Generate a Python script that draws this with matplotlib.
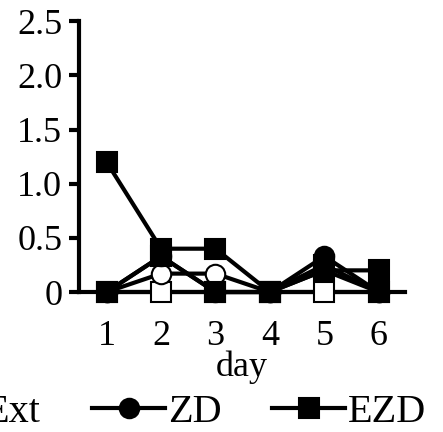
import matplotlib
matplotlib.use("Agg")
import matplotlib.pyplot as plt

plt.rcParams["font.family"] = ["Liberation Serif", "DejaVu Serif"]

days = [1, 2, 3, 4, 5, 6]
cont = [0, 0, 0, 0, 0, 0]
ext = [0, 0.17, 0.17, 0, 0.2, 0]
extra = [0, 0.33, 0, 0, 0.25, 0]
zd = [0, 0.33, 0, 0, 0.33, 0]
ezd = [1.2, 0.4, 0.4, 0, 0.2, 0.2]
yticks = [0, 0.5, 1.0, 1.5, 2.0, 2.5]
yticklabels = ["0", "0.5", "1.0", "1.5", "2.0", "2.5"]

LW = 3.0
MS = 14
FS = 26

fig = plt.figure(figsize=(4.43, 4.32), dpi=100)
ax = fig.add_axes([0.178, 0.324, 0.736, 0.627])

series = [
    (cont, "s", "white", "Cont"),
    (ext, "o", "white", "Ext"),
    (extra, "s", "black", None),
    (zd, "o", "black", "ZD"),
    (ezd, "s", "black", "EZD"),
]

# lines first, markers on top
for vals, m, fc, lab in series:
    ax.plot(days, vals, "-", color="black", lw=LW, zorder=2, clip_on=False)
handles = []
for i, (vals, m, fc, lab) in enumerate(series):
    ax.plot(days, vals, ls="none", marker=m, ms=MS, mfc=fc, mec="black",
            mew=1.5, zorder=3 + i, clip_on=False)
    if lab:
        h, = ax.plot([], [], "-", color="black", lw=LW, marker=m, ms=MS,
                     mfc=fc, mec="black", mew=1.5, label=lab)
        handles.append(h)

ax.set_xlim(0.49, 6.48)
ax.set_ylim(0, 2.5)
ax.set_xticks(days)
ax.set_yticks(yticks)
ax.set_yticklabels(yticklabels)
ax.tick_params(axis="x", length=0, pad=20, labelsize=FS)
ax.tick_params(axis="y", length=7, width=LW, pad=5, labelsize=FS, direction="out")
for s in ("top", "right"):
    ax.spines[s].set_visible(False)
for s in ("left", "bottom"):
    ax.spines[s].set_linewidth(LW)
ax.set_xlabel("day", fontsize=FS, labelpad=-2)

fig.legend(handles=handles, loc="center right", bbox_to_anchor=(0.998, 0.045),
           ncol=4, frameon=False, fontsize=29, handlelength=1.8,
           handletextpad=0.07, columnspacing=1.27, borderaxespad=0)

fig.savefig("out.png", dpi=100)
